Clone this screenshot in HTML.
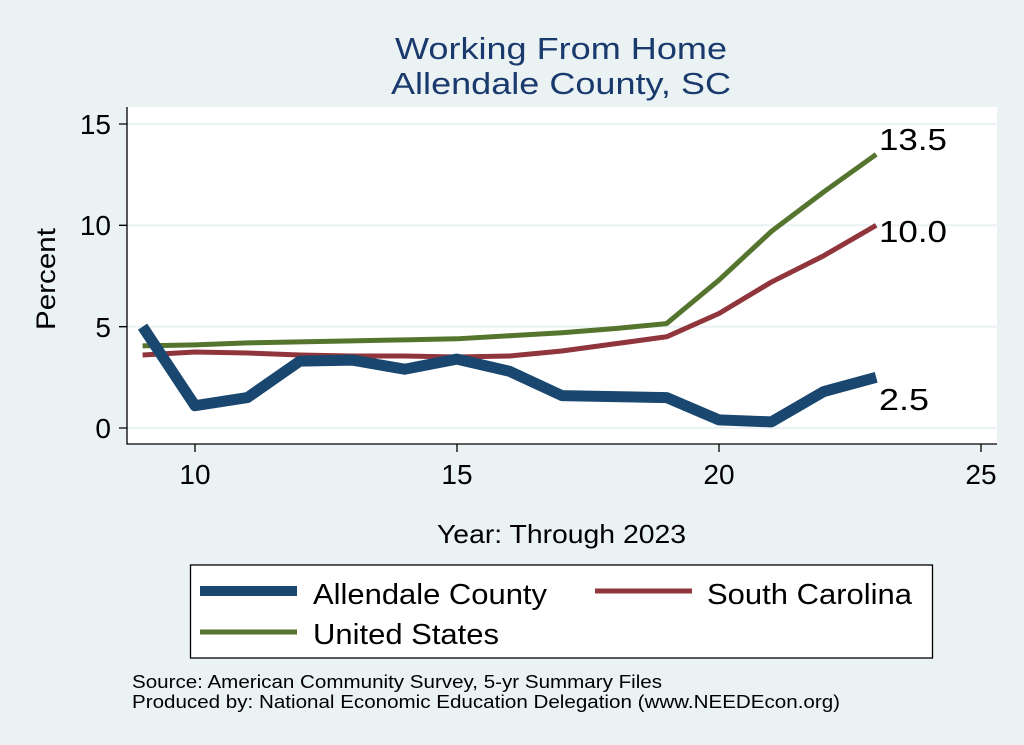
<!DOCTYPE html>
<html><head><meta charset="utf-8"><style>
html,body{margin:0;padding:0;background:#eaf2f3;}
svg{display:block;font-family:"Liberation Sans",sans-serif;}
</style></head><body>
<svg width="1024" height="745" viewBox="0 0 1024 745">
<rect width="1024" height="745" fill="#eaf2f3"/>
<text x="395" y="59" font-size="31" fill="#1a3a6e" textLength="332" lengthAdjust="spacingAndGlyphs">Working From Home</text>
<text x="391" y="94" font-size="31" fill="#1a3a6e" textLength="340" lengthAdjust="spacingAndGlyphs">Allendale County, SC</text>
<rect x="127" y="107" width="870" height="337" fill="#fff"/>
<g stroke="#eaf2f3" stroke-width="2">
<line x1="127" x2="997" y1="124" y2="124"/><line x1="127" x2="997" y1="225.3" y2="225.3"/>
<line x1="127" x2="997" y1="326.7" y2="326.7"/><line x1="127" x2="997" y1="428" y2="428"/>
</g>
<g stroke="#000" stroke-width="1.3" fill="none">
<path d="M127 107V444H997"/>
<path d="M119 124H127M119 225.3H127M119 326.7H127M119 428H127"/>
<path d="M195 444V452M457 444V452M719 444V452M981 444V452"/>
</g>
<g font-size="28" fill="#000" text-anchor="end">
<text x="111" y="134">15</text><text x="111" y="235">10</text><text x="111" y="337">5</text><text x="111" y="438">0</text>
</g>
<g font-size="28" fill="#000" text-anchor="middle">
<text x="195" y="484">10</text><text x="457" y="484">15</text><text x="719" y="484">20</text><text x="981" y="484">25</text>
</g>
<text x="55" y="279" font-size="27" text-anchor="middle" transform="rotate(-90 55 279)" textLength="102" lengthAdjust="spacingAndGlyphs">Percent</text>
<text x="437" y="543" font-size="26" textLength="249" lengthAdjust="spacingAndGlyphs">Year: Through 2023</text>
<g transform="translate(195,428) scale(52.4,-20.27)" fill="none" stroke-linejoin="round">
<polyline vector-effect="non-scaling-stroke" stroke="#55752f" stroke-width="5" points="-1,4.05 0,4.1 1,4.2 2,4.25 3,4.3 4,4.35 5,4.4 6,4.55 7,4.7 8,4.9 9,5.15 10,7.3 11,9.7 12,11.65 13,13.5"/>
<polyline vector-effect="non-scaling-stroke" stroke="#90353b" stroke-width="5" points="-1,3.6 0,3.75 1,3.7 2,3.6 3,3.55 4,3.55 5,3.5 6,3.55 7,3.8 8,4.15 9,4.5 10,5.65 11,7.2 12,8.5 13,10.0"/>
<polyline vector-effect="non-scaling-stroke" stroke="#1a476f" stroke-width="11" points="-1,5.0 0,1.1 1,1.5 2,3.3 3,3.35 4,2.9 5,3.4 6,2.8 7,1.6 8,1.55 9,1.5 10,0.4 11,0.3 12,1.8 13,2.5"/>
</g>
<g font-size="31" fill="#000">
<text x="879" y="150" textLength="68" lengthAdjust="spacingAndGlyphs">13.5</text><text x="879" y="242" textLength="68" lengthAdjust="spacingAndGlyphs">10.0</text><text x="879" y="410" textLength="50" lengthAdjust="spacingAndGlyphs">2.5</text>
</g>
<rect x="190.5" y="565" width="742" height="93" fill="#fff" stroke="#000" stroke-width="1.3"/>
<line x1="200" x2="297" y1="591" y2="591" stroke="#1a476f" stroke-width="10"/>
<line x1="595" x2="692" y1="591" y2="591" stroke="#90353b" stroke-width="5"/>
<line x1="200" x2="297" y1="632" y2="632" stroke="#55752f" stroke-width="5"/>
<g font-size="29" fill="#000">
<text x="313" y="604" textLength="234" lengthAdjust="spacingAndGlyphs">Allendale County</text><text x="707" y="604" textLength="205" lengthAdjust="spacingAndGlyphs">South Carolina</text><text x="313" y="644" textLength="186" lengthAdjust="spacingAndGlyphs">United States</text>
</g>
<g font-size="18" fill="#000">
<text x="132" y="688" textLength="530" lengthAdjust="spacingAndGlyphs">Source: American Community Survey, 5-yr Summary Files</text>
<text x="132" y="708" textLength="708" lengthAdjust="spacingAndGlyphs">Produced by: National Economic Education Delegation (www.NEEDEcon.org)</text>
</g>
</svg>
</body></html>
